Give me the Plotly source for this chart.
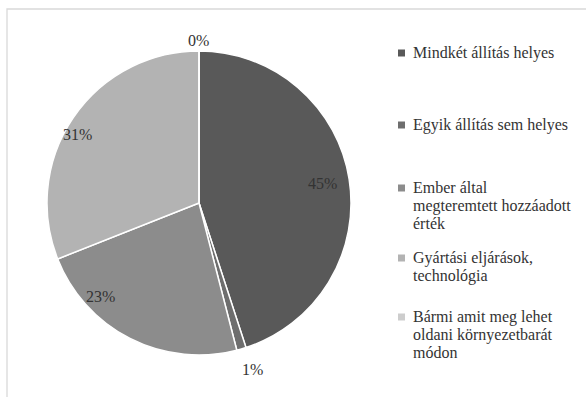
import math
import plotly.graph_objects as go

# Survey answer categories and their shares (%)
labels = [
    "Mindkét állítás helyes",
    "Egyik állítás sem helyes",
    "Ember által megteremtett hozzáadott érték",
    "Gyártási eljárások, technológia",
    "Bármi amit meg lehet oldani környezetbarát módon",
]
values = [45, 1, 23, 31, 0]
legend_lines = [
    ["Mindkét állítás helyes"],
    ["Egyik állítás sem helyes"],
    ["Ember által", "megteremtett hozzáadott", "érték"],
    ["Gyártási eljárások,", "technológia"],
    ["Bármi amit meg lehet", "oldani környezetbarát", "módon"],
]

colors = ["#595959", "#6e6e6e", "#8c8c8c", "#b3b3b3", "#cdcdcd"]
W, H = 586, 397
FONT = "Liberation Serif"
TEXT_COLOR = "#333333"

# pie placement (pixels)
CX, CY, R = 199, 203, 152

# label placement per slice: radial factor and angular nudge (degrees)
label_r = [0.82, 1.15, 0.89, 0.92, 1.07]
label_nudge = [0, -1.5, 19.5, -4.7, 0]

fig = go.Figure()
fig.add_trace(go.Pie(
    labels=labels,
    values=values,
    sort=False,
    direction="clockwise",
    rotation=0,
    marker=dict(colors=colors, line=dict(color="white", width=1.5)),
    textinfo="none",
    showlegend=False,
    hoverinfo="label+percent",
    domain=dict(x=[(CX - R) / W, (CX + R) / W], y=[1 - (CY + R) / H, 1 - (CY - R) / H]),
))

shapes = [
    # chart-area border
    dict(type="rect", xref="paper", yref="paper",
         x0=7 / W, x1=1.02, y0=-0.02, y1=1 - 9 / H,
         line=dict(color="#d9d9d9", width=1.3), fillcolor="rgba(0,0,0,0)", layer="below"),
]
annotations = []

# percentage labels, placed around each slice's middle angle
total = sum(values)
start = 0.0
for v, rf, nudge in zip(values, label_r, label_nudge):
    sweep = 360.0 * v / total
    ang = math.radians(start + sweep / 2 + nudge)
    px = CX + rf * R * math.sin(ang)
    py = CY - rf * R * math.cos(ang)
    annotations.append(dict(
        xref="paper", yref="paper", x=px / W, y=1 - py / H,
        xanchor="center", yanchor="middle", showarrow=False,
        text=f"{v}%", font=dict(family=FONT, size=16, color=TEXT_COLOR),
    ))
    start += sweep

# hand-built legend with the wide spacing between entries and tight line spacing
entry_centers = [53, 125, 188, 258, 317]
LINE_STEP = 17.5
for lines, col, cy in zip(legend_lines, colors, entry_centers):
    shapes.append(dict(type="rect", xref="paper", yref="paper",
                       x0=398 / W, x1=405 / W,
                       y0=1 - (cy + 3.5) / H, y1=1 - (cy - 3.5) / H,
                       fillcolor=col, line=dict(width=0)))
    for k, line in enumerate(lines):
        annotations.append(dict(
            xref="paper", yref="paper", x=411 / W, y=1 - (cy + k * LINE_STEP) / H,
            xanchor="left", yanchor="middle", align="left", showarrow=False,
            text=line,
            font=dict(family=FONT, size=16, color=TEXT_COLOR),
        ))

fig.update_layout(
    width=W, height=H,
    margin=dict(l=0, r=0, t=0, b=0),
    paper_bgcolor="white",
    plot_bgcolor="white",
    shapes=shapes,
    annotations=annotations,
)

fig.write_html("out.html")
